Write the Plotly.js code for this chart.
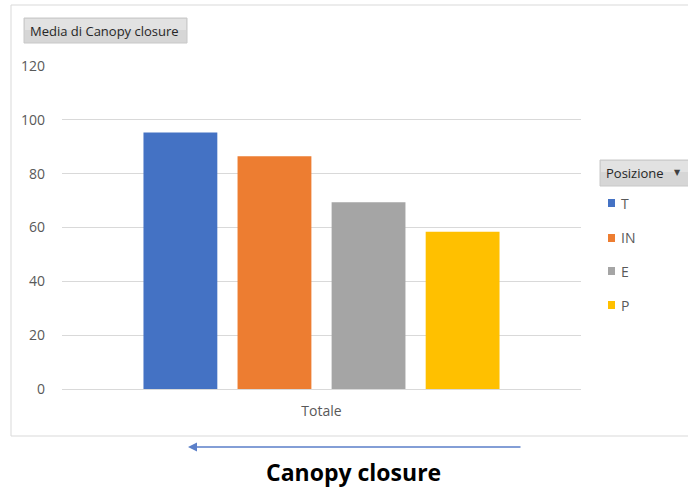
<!DOCTYPE html>
<html>
<head>
<meta charset="utf-8">
<script src="https://cdn.plot.ly/plotly-3.0.1.min.js"></script>
<style>
  html, body { margin: 0; padding: 0; background: #ffffff; }
  #chart { width: 688px; height: 488px; }
</style>
</head>
<body>
<div id="chart"></div>
<script>
// Pivot chart: average canopy closure by position
const category = ['Totale'];
const positions = ['T', 'IN', 'E', 'P'];
const meanCanopy = [95.3, 86.5, 69.4, 58.4];
const colors = ['#4472C4', '#ED7D31', '#A5A5A5', '#FFC000'];
const yTicks = [0, 20, 40, 60, 80, 100, 120];

// plot area geometry (pixels)
const M = { l: 62, r: 107, t: 66, b: 99 };
const W = 688, H = 488;
const pw = W - M.l - M.r, ph = H - M.t - M.b;
const px = v => (v - M.l) / pw;            // pixel x -> paper x
const py = v => (H - M.b - v) / ph;        // pixel y -> paper y

const traces = positions.map((p, i) => ({
  type: 'bar',
  name: p,
  x: category,
  y: [meanCanopy[i]],
  marker: { color: colors[i] },
  hoverinfo: 'name+y'
}));

const tickFont = { family: 'Open Sans, sans-serif', size: 14, color: '#595959' };

const shapes = [
  // chart area frame
  { type: 'rect', xref: 'paper', yref: 'paper',
    x0: px(11), x1: px(700), y0: py(436), y1: py(5),
    line: { color: '#D9D9D9', width: 1 }, fillcolor: 'rgba(0,0,0,0)', layer: 'below' },
  // value field button
  { type: 'rect', xref: 'paper', yref: 'paper',
    x0: px(24), x1: px(187), y0: py(43), y1: py(18),
    line: { color: '#C8C8C8', width: 1 }, fillcolor: '#D6D6D6' },
  { type: 'rect', xref: 'paper', yref: 'paper',
    x0: px(25), x1: px(186), y0: py(30), y1: py(19),
    line: { width: 0 }, fillcolor: '#E2E2E2' },
  // legend field button
  { type: 'rect', xref: 'paper', yref: 'paper',
    x0: px(600), x1: px(692), y0: py(186), y1: py(160),
    line: { color: '#C8C8C8', width: 1 }, fillcolor: '#D6D6D6' },
  { type: 'rect', xref: 'paper', yref: 'paper',
    x0: px(601), x1: px(692), y0: py(172), y1: py(161),
    line: { width: 0 }, fillcolor: '#E2E2E2' }
];

const legendY = [203, 238, 271, 305];
positions.forEach((p, i) => {
  shapes.push({ type: 'rect', xref: 'paper', yref: 'paper',
    x0: px(608), x1: px(615), y0: py(legendY[i] + 4), y1: py(legendY[i] - 4),
    line: { width: 0 }, fillcolor: colors[i] });
});

const annotations = [
  { xref: 'paper', yref: 'paper', x: px(28), y: py(30.5), xanchor: 'left', yanchor: 'middle',
    text: 'Media di Canopy closure', showarrow: false,
    font: { family: 'Open Sans, sans-serif', size: 13, color: '#262626' } },
  { xref: 'paper', yref: 'paper', x: px(604), y: py(173), xanchor: 'left', yanchor: 'middle',
    text: 'Posizione', showarrow: false,
    font: { family: 'Open Sans, sans-serif', size: 13, color: '#262626' } },
  { xref: 'paper', yref: 'paper', x: px(677), y: py(172), xanchor: 'center', yanchor: 'middle',
    text: '▼', showarrow: false,
    font: { family: 'DejaVu Sans, sans-serif', size: 8, color: '#404040' } },
  // direction arrow
  { xref: 'paper', yref: 'paper', x: px(188), y: py(447), ax: 334, ay: 0,
    text: '', showarrow: true, arrowhead: 2, arrowsize: 1.2, arrowwidth: 1.5,
    arrowcolor: '#5B7FC9' },
  { xref: 'paper', yref: 'paper', x: px(353), y: py(472), xanchor: 'center', yanchor: 'middle',
    text: '<b>Canopy closure</b>', showarrow: false,
    font: { family: 'Open Sans, sans-serif', size: 23, color: '#000000' } }
];
positions.forEach((p, i) => {
  annotations.push({ xref: 'paper', yref: 'paper', x: px(619), y: py(legendY[i]),
    xanchor: 'left', yanchor: 'middle', text: p, showarrow: false,
    font: { family: 'Open Sans, sans-serif', size: 14, color: '#595959' } });
});

const layout = {
  width: W, height: H,
  margin: M,
  paper_bgcolor: '#ffffff',
  plot_bgcolor: '#ffffff',
  barmode: 'group',
  bargap: 0.275,
  bargroupgap: 0.215,
  showlegend: false,
  xaxis: {
    type: 'category',
    showgrid: false, zeroline: false, showline: false,
    ticks: '', tickfont: tickFont, ticklabelstandoff: 12, fixedrange: true
  },
  yaxis: {
    range: [0, 120],
    tickvals: yTicks,
    ticktext: yTicks.map(String),
    showgrid: true, gridcolor: '#D9D9D9', gridwidth: 1,
    zeroline: true, zerolinecolor: '#D9D9D9', zerolinewidth: 1,
    showline: false, ticks: '', tickfont: tickFont, ticklabelstandoff: 16,
    fixedrange: true
  },
  shapes: shapes,
  annotations: annotations
};

Plotly.newPlot('chart', traces, layout, { displayModeBar: false, staticPlot: true });
</script>
</body>
</html>
